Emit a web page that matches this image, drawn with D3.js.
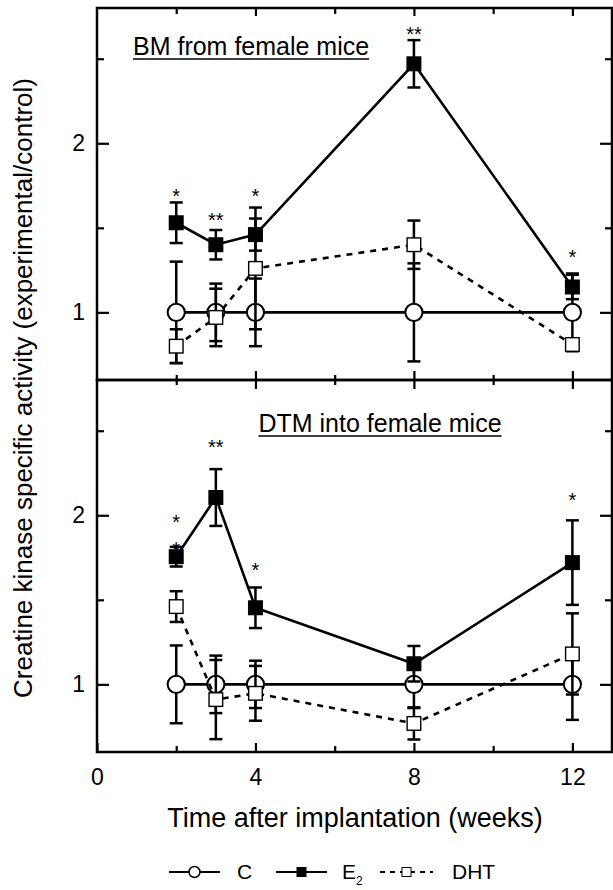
<!DOCTYPE html>
<html><head><meta charset="utf-8">
<script src="https://cdn.jsdelivr.net/npm/d3@7"></script>
<style>
body{margin:0;background:#fff}
svg{display:block}
text{font-family:"Liberation Sans",Arial,Helvetica,sans-serif;fill:#000}
</style>
</head><body>
<svg id="c" width="613" height="890"></svg>
<script>
// ---------- data ----------
const weeks = [2, 3, 4, 8, 12];

// Panel 1: BM from female mice
const bmC      = [1.00, 1.00, 1.00, 1.00, 1.00];
const bmCErr   = [0.30, 0.17, 0.20, 0.29, 0.23];
const bmE2     = [1.53, 1.40, 1.46, 2.47, 1.15];
const bmE2Err  = [0.12, 0.087, 0.095, 0.14, 0.072];
const bmDHT    = [0.80, 0.97, 1.26, 1.40, 0.81];
const bmDHTErr = [0.10, 0.17, 0.36, 0.143, 0.02];
const bmStarWeeks = [2, 3, 4, 8, 12];
const bmStarText  = ["*", "**", "*", "**", "*"];
const bmStarY     = [1.71, 1.568, 1.71, 2.668, 1.35];

// Panel 2: DTM into female mice
const dtmC      = [1.00, 1.00, 1.00, 1.00, 1.00];
const dtmCErr   = [0.23, 0.17, 0.14, 0.14, 0.21];
const dtmE2     = [1.755, 2.105, 1.453, 1.122, 1.72];
const dtmE2Err  = [0.058, 0.168, 0.12, 0.105, 0.25];
const dtmDHT    = [1.46, 0.91, 0.947, 0.769, 1.18];
const dtmDHTErr = [0.091, 0.234, 0.162, 0.095, 0.24];
const dtmStarWeeks = [2, 2, 3, 4, 12];
const dtmStarText  = ["*", "*", "**", "*", "*"];
const dtmStarY     = [1.985, 1.826, 2.43, 1.70, 2.113];

const xMajorTicks = [0, 4, 8, 12];
const xMinorTicks = [2, 6, 10];
const yMajorTicks = [1, 2];
const yMinorTicks = [1.5, 2.5];

const panelTitles = ["BM from female mice", "DTM into female mice"];
const yTitle = "Creatine kinase specific activity (experimental/control)";
const xTitle = "Time after implantation (weeks)";

// ---------- drawing ----------
const svg = d3.select("#c");
const FONT = '"Liberation Sans",Arial,Helvetica,sans-serif';
const left = 97, right = 612;
const x = d3.scaleLinear().domain([0, 13]).range([left, right]);

const panels = [
  {top: 8, bottom: 380, C: bmC, CErr: bmCErr, E2: bmE2, E2Err: bmE2Err, DHT: bmDHT, DHTErr: bmDHTErr,
   sw: bmStarWeeks, st: bmStarText, sy: bmStarY, title: panelTitles[0], tx: 133, ta: "start", ty: 55},
  {top: 380, bottom: 752, C: dtmC, CErr: dtmCErr, E2: dtmE2, E2Err: dtmE2Err, DHT: dtmDHT, DHTErr: dtmDHTErr,
   sw: dtmStarWeeks, st: dtmStarText, sy: dtmStarY, title: panelTitles[1], tx: 380, ta: "middle", ty: 432}
];

function styleAxis(g, fs) {
  g.attr("font-family", FONT).attr("font-size", fs);
  g.select(".domain").remove();
  g.selectAll(".tick line").attr("stroke", "#000").attr("stroke-width", 2.2);
  g.selectAll(".tick text").attr("fill", "#000");
}

function drawSeries(g, y, vals, errs, kind) {
  const pts = weeks.map((w, i) => ({w, v: vals[i], e: errs[i]}));
  const line = d3.line().x(d => x(d.w)).y(d => y(d.v));
  g.append("path").datum(pts).attr("d", line)
    .attr("fill", "none").attr("stroke", "#000").attr("stroke-width", 2.6)
    .attr("stroke-dasharray", kind === "DHT" ? "6,6" : null);
  const eb = g.append("g").attr("stroke", "#000").attr("stroke-width", 2.5);
  pts.forEach(d => {
    const x0 = x(d.w), y1 = y(d.v + d.e), y2 = y(d.v - d.e);
    eb.append("line").attr("x1", x0).attr("x2", x0).attr("y1", y1).attr("y2", y2);
    eb.append("line").attr("x1", x0 - 6.5).attr("x2", x0 + 6.5).attr("y1", y1).attr("y2", y1);
    eb.append("line").attr("x1", x0 - 6.5).attr("x2", x0 + 6.5).attr("y1", y2).attr("y2", y2);
  });
  const mk = g.append("g");
  pts.forEach(d => {
    const cx = x(d.w), cy = y(d.v);
    if (kind === "C") {
      mk.append("circle").attr("cx", cx).attr("cy", cy).attr("r", 8.6)
        .attr("fill", "#fff").attr("stroke", "#000").attr("stroke-width", 2);
    } else if (kind === "E2") {
      mk.append("rect").attr("x", cx - 7.5).attr("y", cy - 7.5).attr("width", 15).attr("height", 15)
        .attr("fill", "#000");
    } else {
      mk.append("rect").attr("x", cx - 6.8).attr("y", cy - 6.8).attr("width", 13.6).attr("height", 13.6)
        .attr("fill", "#fff").attr("stroke", "#000").attr("stroke-width", 1.4);
    }
  });
}

panels.forEach((p, pi) => {
  const y = d3.scaleLinear().domain([0.6, 2.8]).range([p.bottom, p.top]);
  const g = svg.append("g");

  g.append("g").attr("transform", `translate(${left},0)`)
    .call(d3.axisLeft(y).tickValues(yMajorTicks).tickSize(-12).tickPadding(12).tickFormat(d3.format("d")))
    .call(a => styleAxis(a, 23));
  g.append("g").attr("transform", `translate(${left},0)`)
    .call(d3.axisLeft(y).tickValues(yMinorTicks).tickSize(-7).tickFormat(""))
    .call(a => styleAxis(a, 23));
  g.append("g").attr("transform", `translate(${right},0)`)
    .call(d3.axisRight(y).tickValues(yMajorTicks).tickSize(-12).tickFormat(""))
    .call(a => styleAxis(a, 23));
  g.append("g").attr("transform", `translate(${right},0)`)
    .call(d3.axisRight(y).tickValues(yMinorTicks).tickSize(-7).tickFormat(""))
    .call(a => styleAxis(a, 23));

  if (pi === 0) {
    g.append("g").attr("transform", `translate(0,${p.top})`)
      .call(d3.axisTop(x).tickValues(xMajorTicks.filter(v => v > 0)).tickSize(-8).tickFormat(""))
      .call(a => styleAxis(a, 23));
    g.append("g").attr("transform", `translate(0,${p.top})`)
      .call(d3.axisTop(x).tickValues(xMinorTicks).tickSize(-6).tickFormat(""))
      .call(a => styleAxis(a, 23));
  } else {
    [d3.axisTop, d3.axisBottom].forEach(ax => {
      g.append("g").attr("transform", `translate(0,${p.top})`)
        .call(ax(x).tickValues(xMajorTicks.filter(v => v > 0)).tickSize(9).tickFormat(""))
        .call(a => styleAxis(a, 23));
      g.append("g").attr("transform", `translate(0,${p.top})`)
        .call(ax(x).tickValues(xMinorTicks).tickSize(5).tickFormat(""))
        .call(a => styleAxis(a, 23));
    });
    g.append("g").attr("transform", `translate(0,${p.bottom})`)
      .call(d3.axisBottom(x).tickValues(xMajorTicks).tickSize(-9).tickPadding(17).tickFormat(d3.format("d")))
      .call(a => styleAxis(a, 23));
    g.append("g").attr("transform", `translate(0,${p.bottom})`)
      .call(d3.axisBottom(x).tickValues(xMinorTicks).tickSize(-6).tickFormat(""))
      .call(a => styleAxis(a, 23));
  }

  drawSeries(g, y, p.C, p.CErr, "C");
  drawSeries(g, y, p.DHT, p.DHTErr, "DHT");
  drawSeries(g, y, p.E2, p.E2Err, "E2");

  p.sw.forEach((w, i) => {
    g.append("text").attr("x", x(w)).attr("y", y(p.sy[i]) + 11)
      .attr("text-anchor", "middle").attr("font-size", 20).text(p.st[i]);
  });

  const t = g.append("text").attr("x", p.tx).attr("y", p.ty)
    .attr("text-anchor", p.ta).attr("font-size", 25).text(p.title);
  const bb = t.node().getBBox();
  g.append("line").attr("x1", bb.x).attr("x2", bb.x + bb.width)
    .attr("y1", p.ty + 4).attr("y2", p.ty + 4).attr("stroke", "#000").attr("stroke-width", 1.6);

  g.append("rect").attr("x", left).attr("y", p.top).attr("width", right - left).attr("height", p.bottom - p.top)
    .attr("fill", "none").attr("stroke", "#000").attr("stroke-width", 2.5);
});

svg.append("text").attr("transform", "translate(32,388) rotate(-90)")
  .attr("text-anchor", "middle").attr("font-size", 26).text(yTitle);
svg.append("text").attr("x", 355).attr("y", 827)
  .attr("text-anchor", "middle").attr("font-size", 27).text(xTitle);

const lg = svg.append("g");
const ly = 872;
const legendItems = [
  {kind: "C", x0: 169, x1: 220, tx: 237, label: "C", sub: ""},
  {kind: "E2", x0: 276, x1: 327, tx: 342, label: "E", sub: "2"},
  {kind: "DHT", x0: 380, x1: 433, tx: 452, label: "DHT", sub: ""}
];
legendItems.forEach(it => {
  lg.append("line").attr("x1", it.x0).attr("x2", it.x1).attr("y1", ly).attr("y2", ly)
    .attr("stroke", "#000").attr("stroke-width", 2.2)
    .attr("stroke-dasharray", it.kind === "DHT" ? "5,5" : null);
  const cx = (it.x0 + it.x1) / 2;
  if (it.kind === "C") {
    lg.append("circle").attr("cx", cx).attr("cy", ly).attr("r", 5.5)
      .attr("fill", "#fff").attr("stroke", "#000").attr("stroke-width", 1.5);
  } else if (it.kind === "E2") {
    lg.append("rect").attr("x", cx - 5).attr("y", ly - 5).attr("width", 10).attr("height", 10).attr("fill", "#000");
  } else {
    lg.append("rect").attr("x", cx - 4.5).attr("y", ly - 4.5).attr("width", 9).attr("height", 9)
      .attr("fill", "#fff").attr("stroke", "#000").attr("stroke-width", 1);
  }
  const t = lg.append("text").attr("x", it.tx).attr("y", ly + 7).attr("font-size", 21).text(it.label);
  if (it.sub) t.append("tspan").attr("font-size", 12).attr("dy", 6).text(it.sub);
});
</script>
</body></html>
